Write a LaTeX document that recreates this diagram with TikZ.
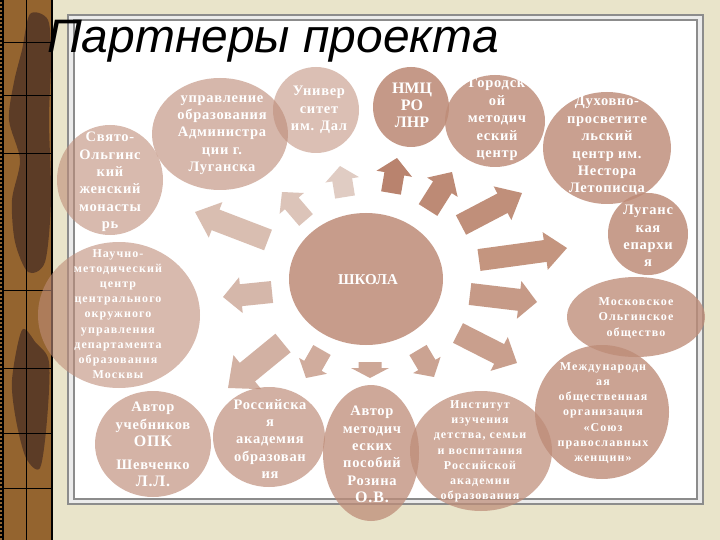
\documentclass[tikz,border=0pt]{standalone}
\usepackage{fontspec}
\setmainfont{Liberation Serif}
\newfontfamily\titlefont{Liberation Sans}
\newfontfamily\cf[LetterSpace=5]{Liberation Serif}
\newfontfamily\cfs[LetterSpace=9]{Liberation Serif}
\usetikzlibrary{shapes.geometric}
\definecolor{bgbeige}{HTML}{E9E4CA}
\definecolor{stripbase}{HTML}{94642F}
\definecolor{stripdark}{HTML}{533525}
\definecolor{panelline}{HTML}{8C8C8C}
\definecolor{basecol}{HTML}{BE8C78}
\definecolor{arA}{HTML}{D9BEB1}
\definecolor{arB}{HTML}{DCC4B9}
\definecolor{arC}{HTML}{E0CCC3}
\definecolor{arD}{HTML}{B9836E}
\definecolor{arE}{HTML}{BD8A75}
\definecolor{arF}{HTML}{C08F7A}
\definecolor{arG}{HTML}{C4957F}
\definecolor{arH}{HTML}{C69A87}
\definecolor{arI}{HTML}{C99F8D}
\definecolor{arJ}{HTML}{CBA392}
\definecolor{arK}{HTML}{CDA797}
\definecolor{arL}{HTML}{D0AC9D}
\definecolor{arM}{HTML}{D2B1A3}
\definecolor{arN}{HTML}{D5B7AA}
\newcommand{\barrow}[8]{%
  \pgfmathsetmacro{\arang}{atan2(#2-#4,#3-#1)}%
  \pgfmathsetmacro{\arlen}{veclen(#3-#1,#4-#2)}%
  \pgfmathsetmacro{\arhb}{\arlen-#7}%
  \begin{scope}[shift={(#1,#2)},rotate=\arang]
    \fill[#8] (0,-#5/2) -- (\arhb,-#5/2) -- (\arhb,-#6/2) -- (\arlen,0)
      -- (\arhb,#6/2) -- (\arhb,#5/2) -- (0,#5/2) -- cycle;
  \end{scope}}
\tikzset{
  circ/.style={ellipse, fill=basecol, inner sep=0pt, draw=none},
  txt/.style={text=white, align=center, inner sep=0pt},
  big/.style={font=\cf\bfseries\fontsize{14.5}{17.4}\selectfont},
  small/.style={font=\cfs\bfseries\fontsize{12}{15.2}\selectfont},
}
\begin{document}
\begin{tikzpicture}[x=1pt,y=-1pt]
\useasboundingbox (0,0) rectangle (720,540);
\fill[bgbeige] (0,0) rectangle (720,540);
% left strip
\fill[stripbase] (0,0) rectangle (53,540);
\fill[stripdark, opacity=0.85] plot[smooth cycle] coordinates {(30,14) (48,20) (51,60) (49,120) (51,200) (45,262) (28,272) (15,242) (12,200) (20,160) (9,120) (14,82) (22,50)};
\fill[stripdark, opacity=0.85] plot[smooth cycle] coordinates {(22,330) (36,343) (49,362) (47,420) (40,468) (26,458) (16,420) (12,380)};
\draw[black, line width=0.8] (26,0) -- (26,540);
\foreach \yy in {42,95,153,290,368,433,488} \draw[black, line width=0.8] (3,\yy) -- (52,\yy);
\draw[black, line width=1.6] (3,0) -- (3,540);
\draw[black, line width=1.6] (52,0) -- (52,540);
\draw[black, line width=1.5, dash pattern=on 2pt off 2pt] (1,0) -- (1,540);
% panel
\filldraw[fill=white!92!black, draw=panelline, line width=1.2] (68,15) rectangle (703,504);
\filldraw[fill=white, draw=panelline, line width=1.2] (74,20) rectangle (697,499);
% arrows
\barrow{268}{240}{195}{212}{22}{38}{22}{arA}
\barrow{306}{220}{282}{192}{18}{32}{15}{arB}
\barrow{345}{197}{340}{166}{20}{34}{14}{arC}
\barrow{391}{193}{397}{158}{20}{36}{16}{arD}
\barrow{428}{210}{452}{172}{22}{36}{18}{arE}
\barrow{461}{225}{522}{193}{22}{38}{22}{arF}
\barrow{479}{260}{567}{248}{22}{38}{22}{arG}
\barrow{470}{294}{537}{302}{22}{38}{18}{arH}
\barrow{458}{333}{517}{363}{22}{38}{20}{arI}
\barrow{418}{350}{434}{377}{20}{32}{14}{arJ}
\barrow{370}{362}{370}{378}{23}{38}{10}{arK}
\barrow{322}{350}{306}{378}{20}{32}{14}{arL}
\barrow{283}{343}{228}{388}{24}{44}{25}{arM}
\barrow{272}{292}{223}{297}{22}{36}{18}{arN}
% circles
\node[circ, opacity=0.60, minimum width=106, minimum height=110] (c1) at (110,180) {};
\node[circ, opacity=0.62, minimum width=136, minimum height=112] (c2) at (220,134) {};
\node[circ, opacity=0.55, minimum width=86, minimum height=86] (c3) at (316,110) {};
\node[circ, opacity=0.88, minimum width=76, minimum height=80] (c4) at (411,107) {};
\node[circ, opacity=0.82, minimum width=100, minimum height=92] (c5) at (495,121) {};
\node[circ, opacity=0.82, minimum width=128, minimum height=112] (c6) at (607,148) {};
\node[circ, opacity=0.85, minimum width=80, minimum height=82] (c7) at (648,234) {};
\node[circ, opacity=0.78, minimum width=138, minimum height=80] (c8) at (636,317) {};
\node[circ, opacity=0.80, minimum width=134, minimum height=134] (c9) at (602,412) {};
\node[circ, opacity=0.72, minimum width=142, minimum height=120] (c10) at (481,451) {};
\node[circ, opacity=0.75, minimum width=96, minimum height=136] (c11) at (371,453) {};
\node[circ, opacity=0.68, minimum width=112, minimum height=100] (c12) at (269,437) {};
\node[circ, opacity=0.66, minimum width=116, minimum height=106] (c13) at (153,444) {};
\node[circ, opacity=0.60, minimum width=162, minimum height=146] (c14) at (119,315) {};
\node[circ, opacity=0.86, minimum width=154, minimum height=132] (c15) at (366,279) {};
% texts
\node[txt, big] (t1) at (110,182) {Свято-\\Ольгинс\\кий\\женский\\монасты\\рь};
\node[txt, big] (t2) at (222,135) {управление\\образования\\Администра\\ции г.\\Луганска};
\node[txt, big] (t3) at (319,110) {Универ\\ситет\\им. Дал};
\node[txt, font=\bfseries\fontsize{16}{17}\selectfont] (t4) at (412,105) {НМЦ\\РО\\ЛНР};
\node[txt, big] (t5) at (497,119.5) {Городск\\ой\\методич\\еский\\центр};
\node[txt, big] (t6) at (607,146) {Духовно-\\просветите\\льский\\центр им.\\Нестора\\Летописца};
\node[txt, big] (t7) at (648,236) {Луганс\\кая\\епархи\\я};
\node[txt, small] (t8) at (636,318) {Московское\\Ольгинское\\общество};
\node[txt, small] (t9) at (603,413) {Международн\\ая\\общественная\\организация\\«Союз\\православных\\женщин»};
\node[txt, small] (t10) at (480,451.5) {Институт\\изучения\\детства, семьи\\и воспитания\\Российской\\академии\\образования};
\node[txt, big] (t11) at (372,454.5) {Автор\\методич\\еских\\пособий\\Розина\\{\fontsize{16}{17}\selectfont О.В.}};
\node[txt, big] (t12) at (270,439) {Российска\\я\\академия\\образован\\ия};
\node[txt, big] (t13) at (153,444.5) {Автор\\учебников\\{\fontsize{16}{17}\selectfont ОПК}\\[5.5pt]Шевченко\\{\fontsize{16}{17}\selectfont Л.Л.}};
\node[txt, small] (t14) at (118,314) {Научно-\\методический\\центр\\центрального\\окружного\\управления\\департамента\\образования\\Москвы};
\node[txt, font=\bfseries\fontsize{15}{17}\selectfont] (t15) at (368,280) {ШКОЛА};
% title
\node[anchor=base west, inner sep=0pt, xscale=1.02, font=\titlefont\itshape\fontsize{47}{47}\selectfont] (title) at (47,53) {Партнеры проекта};
\end{tikzpicture}
\end{document}
